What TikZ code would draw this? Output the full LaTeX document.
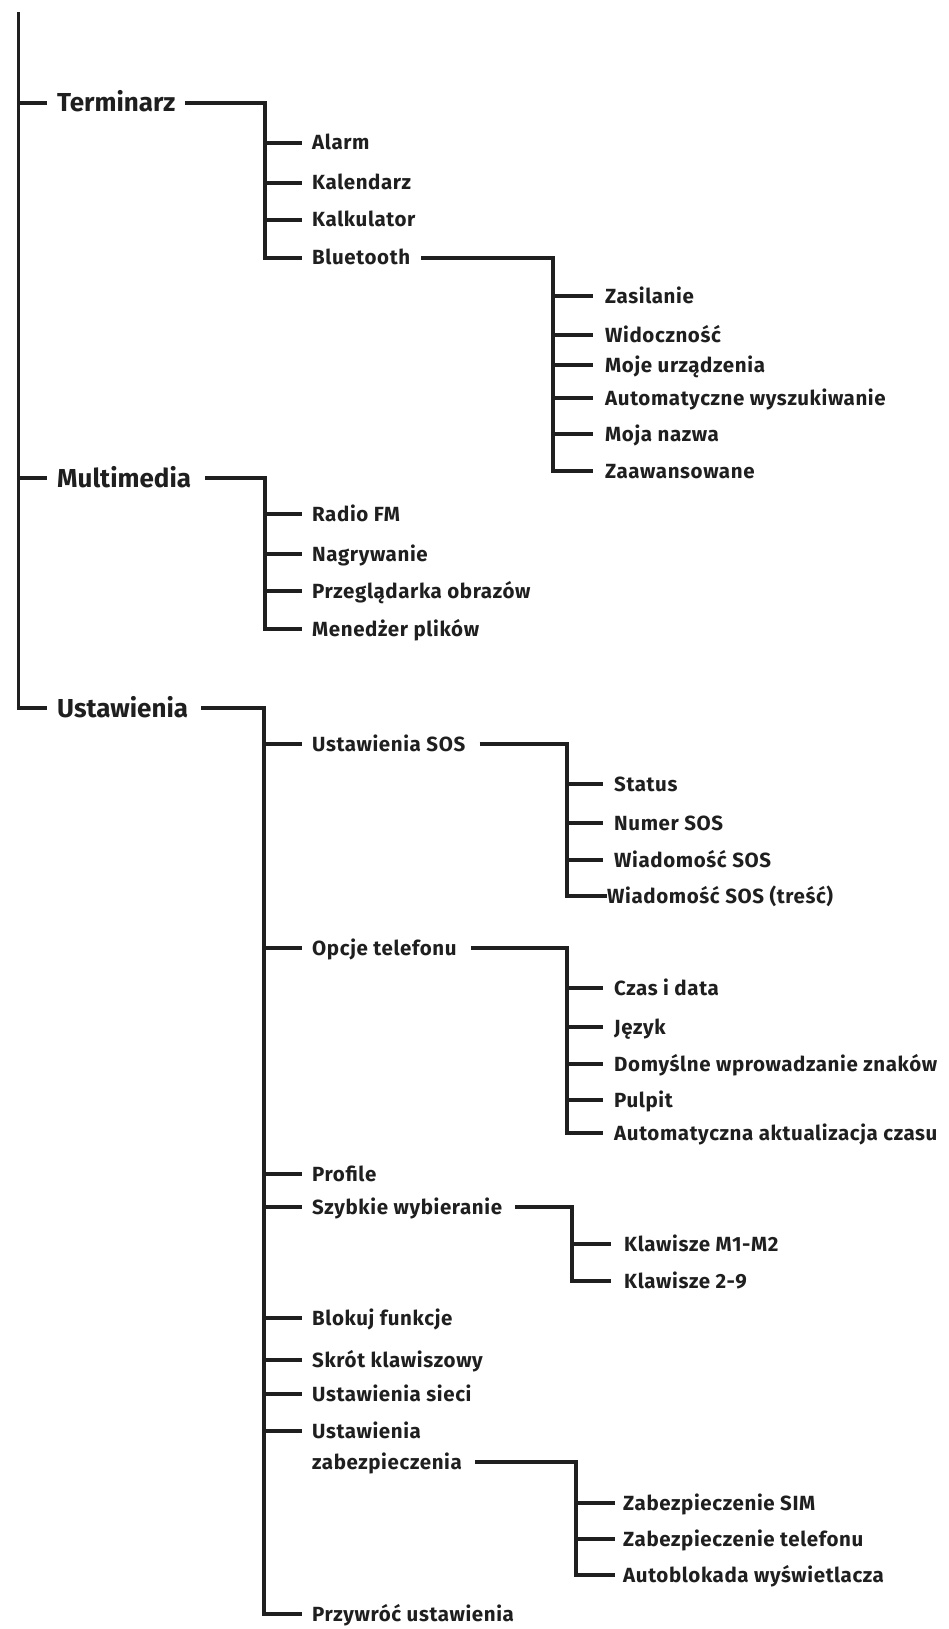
\documentclass[tikz,border=0pt]{standalone}
\usepackage{fontspec}
\setmainfont{Fira Sans}
\newcommand\toplfont{\fontsize{26}{31}\selectfont\bfseries}
\newcommand\lblfont{\fontsize{20.5}{31}\selectfont\bfseries\addfontfeature{LetterSpace=3}}
\tikzset{
  ln/.style={line width=3.2pt, color=black!88},
  l1/.style={anchor=west, inner sep=0pt, text height=18pt, text depth=0pt, font=\toplfont, text=black!88},
  l2/.style={anchor=west, inner sep=0pt, text height=14pt, text depth=0pt, font=\lblfont, text=black!88},
  l2b/.style={anchor=base west, inner sep=0pt, font=\lblfont, text=black!88}
}
\begin{document}
\begin{tikzpicture}[x=1pt,y=-1pt]
\fill[white] (0,0) rectangle (948,1629);
\useasboundingbox (0,0) rectangle (948,1629);
% branch x positions
\coordinate (top) at (18.5,12);
\coordinate (bT) at (265,0);
\coordinate (bB) at (553,0);
\coordinate (bM) at (265,0);
\coordinate (bU) at (264,0);
\coordinate (bS) at (567,0);
\coordinate (bO) at (567,0);
\coordinate (bK) at (572,0);
\coordinate (bZ) at (576,0);
% level 1
\node[l1] (ter) at (57,103) {Terminarz};
\node[l1] (mul) at (57,478) {Multimedia};
\node[l1] (ust) at (57,708) {Ustawienia};
% Terminarz
\node[l2] (ala) at (312,143) {Alarm};
\node[l2] (kal) at (312,183) {Kalendarz};
\node[l2] (kak) at (312,220) {Kalkulator};
\node[l2] (blu) at (312,258) {Bluetooth};
% Bluetooth
\node[l2] (zas) at (605,296) {Zasilanie};
\node[l2] (wid) at (605,335) {Widoczność};
\node[l2] (moj) at (605,365) {Moje urządzenia};
\node[l2] (aut) at (605,398) {Automatyczne wyszukiwanie};
\node[l2] (naz) at (605,434) {Moja nazwa};
\node[l2] (zaa) at (605,471) {Zaawansowane};
% Multimedia
\node[l2] (rad) at (312,514) {Radio FM};
\node[l2] (nag) at (312,554) {Nagrywanie};
\node[l2] (prz) at (312,591) {Przeglądarka obrazów};
\node[l2] (men) at (312,629) {Menedżer plików};
% Ustawienia
\node[l2] (sos) at (312,744) {Ustawienia SOS};
\node[l2] (opc) at (312,948) {Opcje telefonu};
\node[l2] (pro) at (312,1174) {Profile};
\node[l2] (szy) at (312,1207) {Szybkie wybieranie};
\node[l2] (blo) at (312,1318) {Blokuj funkcje};
\node[l2] (skr) at (312,1360) {Skrót klawiszowy};
\node[l2] (sie) at (312,1394) {Ustawienia sieci};
\node[l2b] (zab) at (312,1469) {\begin{tabular}[b]{@{}l@{}}Ustawienia\\zabezpieczenia\end{tabular}};
\coordinate (zab1) at (312,1431);
\node[l2] (prw) at (312,1614) {Przywróć ustawienia};
% SOS
\node[l2] (sta) at (614,784) {Status};
\node[l2] (num) at (614,823) {Numer SOS};
\node[l2] (wia) at (614,860) {Wiadomość SOS};
\node[l2] (wit) at (607,896) {Wiadomość SOS (treść)};
% Opcje
\node[l2] (cza) at (614,988) {Czas i data};
\node[l2] (jez) at (614,1027) {Język};
\node[l2] (dom) at (614,1064) {Domyślne wprowadzanie znaków};
\node[l2] (pul) at (614,1100) {Pulpit};
\node[l2] (aak) at (614,1133) {Automatyczna aktualizacja czasu};
% Szybkie
\node[l2] (km) at (624,1244) {Klawisze M1-M2};
\node[l2] (k29) at (624,1281) {Klawisze 2-9};
% Zabezpieczenia
\node[l2] (zsim) at (623,1503) {Zabezpieczenie SIM};
\node[l2] (ztel) at (623,1539) {Zabezpieczenie telefonu};
\node[l2] (zaut) at (623,1575) {Autoblokada wyświetlacza};

% root
\draw[ln] (top) |- ([xshift=-10pt]ust.west);
\foreach \c in {ter,mul} \draw[ln] (top |- \c.west) -- ([xshift=-10pt]\c.west);
% Terminarz
\draw[ln] ([xshift=10pt]ter.east) -| (bT |- blu.west) -- ([xshift=-10pt]blu.west);
\foreach \c in {ala,kal,kak} \draw[ln] (bT |- \c.west) -- ([xshift=-10pt]\c.west);
% Bluetooth
\draw[ln] ([xshift=11pt]blu.east) -| (bB |- zaa.west) -- ([xshift=-12pt]zaa.west);
\foreach \c in {zas,wid,moj,aut,naz} \draw[ln] (bB |- \c.west) -- ([xshift=-12pt]\c.west);
% Multimedia
\draw[ln] ([xshift=14pt]mul.east) -| (bM |- men.west) -- ([xshift=-10pt]men.west);
\foreach \c in {rad,nag,prz} \draw[ln] (bM |- \c.west) -- ([xshift=-10pt]\c.west);
% Ustawienia
\draw[ln] ([xshift=13pt]ust.east) -| (bU |- prw.west) -- ([xshift=-10pt]prw.west);
\foreach \c in {sos,opc,pro,szy,blo,skr,sie,zab1} \draw[ln] (bU |- \c) -- ([xshift=-10pt]\c.west);
% SOS
\draw[ln] ([xshift=14pt]sos.east) -| (bS |- wit.west) -- (wit.west);
\foreach \c in {sta,num,wia} \draw[ln] (bS |- \c.west) -- ([xshift=-11pt]\c.west);
% Opcje
\draw[ln] ([xshift=14pt]opc.east) -| (bO |- aak.west) -- ([xshift=-11pt]aak.west);
\foreach \c in {cza,jez,dom,pul} \draw[ln] (bO |- \c.west) -- ([xshift=-11pt]\c.west);
% Szybkie
\draw[ln] ([xshift=13pt]szy.east) -| (bK |- k29.west) -- ([xshift=-13pt]k29.west);
\draw[ln] (bK |- km.west) -- ([xshift=-13pt]km.west);
% Zabezpieczenia
\draw[ln] ([xshift=13pt,yshift=7pt]zab.base east) -| (bZ |- zaut.west) -- ([xshift=-8pt]zaut.west);
\foreach \c in {zsim,ztel} \draw[ln] (bZ |- \c.west) -- ([xshift=-8pt]\c.west);
\end{tikzpicture}
\end{document}
